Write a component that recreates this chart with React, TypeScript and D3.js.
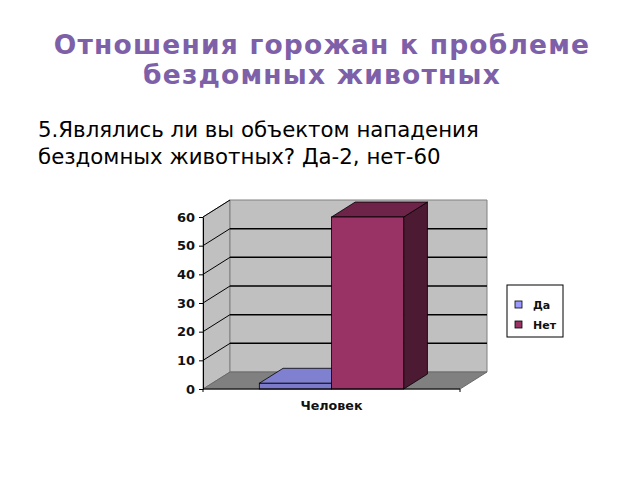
import { useEffect, useRef } from 'react'
import * as d3 from 'd3'

const categories = ['Человек']
const seriesNames = ['Да', 'Нет']
const seriesValues = [2, 60]
const yTicks = [0, 10, 20, 30, 40, 50, 60]

const titleLines = ['Отношения горожан к проблеме', 'бездомных животных']
const questionLines = ['5.Являлись ли вы объектом нападения', 'бездомных животных? Да-2, нет-60']

// front / top / side shades per series, legend swatch colour
const faceColors = [
  { front: '#7b7bc9', top: '#8080d0', side: '#5c5ca0', legend: '#9999ff' },
  { front: '#993366', top: '#6e2448', side: '#4d1a33', legend: '#993366' },
]

export default function App() {
  const svgRef = useRef<SVGSVGElement>(null)

  useEffect(() => {
    const svg = svgRef.current
    if (!svg) return
    d3.select(svg).selectAll('*').remove()
    const root = d3.select(svg)

    // ── Headings ──────────────────────────────────────────────
    root
      .append('g')
      .selectAll('text')
      .data(titleLines)
      .join('text')
      .attr('x', 322)
      .attr('y', (_, i) => 54 + i * 30)
      .attr('text-anchor', 'middle')
      .attr('font-family', 'DejaVu Sans')
      .attr('font-weight', 'bold')
      .attr('font-size', '26.5px')
      .attr('letter-spacing', '1.2px')
      .attr('fill', '#7d60a8')
      .text((d) => d)

    root
      .append('g')
      .selectAll('text')
      .data(questionLines)
      .join('text')
      .attr('x', 38)
      .attr('y', (_, i) => 137 + i * 27)
      .attr('font-family', 'DejaVu Sans')
      .attr('font-size', '21.3px')
      .attr('fill', '#000')
      .text((d) => d)

    // ── Scales ────────────────────────────────────────────────
    const y = d3.scaleLinear().domain([0, 60]).range([389, 217])
    const x0 = d3.scaleBand().domain(categories).range([203, 460])
    const DX = 27
    const DY = -17
    const barDepth = 0.88

    const left = 203
    const right = 460
    const g = root.append('g')

    // ── Walls & floor ─────────────────────────────────────────
    const pts = (arr: [number, number][]) => arr.map((p) => p.join(',')).join(' ')
    g.append('polygon')
      .attr('points', pts([[left, y(60)], [left + DX, y(60) + DY], [left + DX, y(0) + DY], [left, y(0)]]))
      .attr('fill', '#c0c0c0')
      .attr('stroke', '#808080')
    g.append('polygon')
      .attr('points', pts([[left + DX, y(60) + DY], [right + DX, y(60) + DY], [right + DX, y(0) + DY], [left + DX, y(0) + DY]]))
      .attr('fill', '#c0c0c0')
      .attr('stroke', '#808080')
    g.append('polygon')
      .attr('points', pts([[left, y(0)], [left + DX, y(0) + DY], [right + DX, y(0) + DY], [right, y(0)]]))
      .attr('fill', '#808080')
      .attr('stroke', '#6a6a6a')

    // ── Gridlines ─────────────────────────────────────────────
    const inner = yTicks.filter((t) => t > 0 && t < 60)
    g.append('g')
      .selectAll('line')
      .data(inner)
      .join('line')
      .attr('x1', left + DX)
      .attr('x2', right + DX)
      .attr('y1', (d) => y(d) + DY)
      .attr('y2', (d) => y(d) + DY)
      .attr('stroke', '#000')
      .attr('stroke-width', 1.5)
    g.append('g')
      .selectAll('line')
      .data(yTicks.filter((t) => t > 0))
      .join('line')
      .attr('x1', left)
      .attr('x2', left + DX)
      .attr('y1', (d) => y(d))
      .attr('y2', (d) => y(d) + DY)
      .attr('stroke', '#000')
      .attr('stroke-width', 1)

    // ── Bars ──────────────────────────────────────────────────
    categories.forEach((cat) => {
      const start = x0(cat)!
      const x1 = d3
        .scaleBand()
        .domain(seriesNames)
        .range([start, start + x0.bandwidth()])
        .paddingOuter(0.78)
        .paddingInner(0)
      seriesNames.forEach((name, i) => {
        const v = seriesValues[i]
        const c = faceColors[i]
        const bx = x1(name)!
        const bw = x1.bandwidth()
        const top = y(v)
        const bot = y(0)
        const dx = DX * barDepth
        const dy = DY * barDepth
        const bar = g.append('g').attr('stroke', '#000').attr('stroke-width', 0.8)
        bar.append('polygon')
          .attr('points', pts([[bx + bw, top], [bx + bw + dx, top + dy], [bx + bw + dx, bot + dy], [bx + bw, bot]]))
          .attr('fill', c.side)
        bar.append('polygon')
          .attr('points', pts([[bx, top], [bx + dx, top + dy], [bx + bw + dx, top + dy], [bx + bw, top]]))
          .attr('fill', c.top)
        bar.append('rect')
          .attr('x', bx)
          .attr('y', top)
          .attr('width', bw)
          .attr('height', bot - top)
          .attr('fill', c.front)
      })
    })

    // ── Axes ──────────────────────────────────────────────────
    root
      .append('g')
      .attr('transform', `translate(${left},0)`)
      .call(d3.axisLeft(y).tickValues(yTicks).tickSize(4).tickSizeOuter(0).tickPadding(4))
      .call((a) => a.select('.domain').attr('stroke', '#000'))
      .call((a) => a.selectAll('line').attr('stroke', '#000'))
      .call((a) =>
        a
          .selectAll('text')
          .attr('fill', '#111')
          .attr('font-family', 'DejaVu Sans')
          .attr('font-weight', 'bold')
          .attr('font-size', '13px')
      )

    root
      .append('g')
      .attr('transform', `translate(0,${y(0)})`)
      .call(d3.axisBottom(x0).tickSize(0).tickPadding(12))
      .call((a) => a.select('.domain').attr('stroke', '#000').attr('d', `M${left},3V0H${right}V3`))
      .call((a) =>
        a
          .selectAll('text')
          .attr('fill', '#111')
          .attr('font-family', 'DejaVu Sans')
          .attr('font-weight', 'bold')
          .attr('font-size', '12.7px')
      )

    // ── Legend ────────────────────────────────────────────────
    const legend = root.append('g').attr('transform', 'translate(507,285)')
    legend
      .append('rect')
      .attr('width', 56)
      .attr('height', 52)
      .attr('fill', '#fff')
      .attr('stroke', '#000')
    const item = legend
      .selectAll('g.item')
      .data(seriesNames)
      .join('g')
      .attr('class', 'item')
      .attr('transform', (_, i) => `translate(8,${20 + i * 20})`)
    item
      .append('rect')
      .attr('x', 0)
      .attr('y', -4)
      .attr('width', 7)
      .attr('height', 7)
      .attr('fill', (_, i) => faceColors[i].legend)
      .attr('stroke', '#000')
      .attr('stroke-width', 0.8)
    item
      .append('text')
      .attr('x', 18)
      .attr('y', 3.5)
      .attr('font-family', 'DejaVu Sans')
      .attr('font-weight', 'bold')
      .attr('font-size', '11px')
      .attr('fill', '#111')
      .text((d) => d)
  }, [])

  return (
    <svg
      ref={svgRef}
      width={640}
      height={480}
      style={{ position: 'absolute', left: 0, top: 0, background: '#fff' }}
    />
  )
}
